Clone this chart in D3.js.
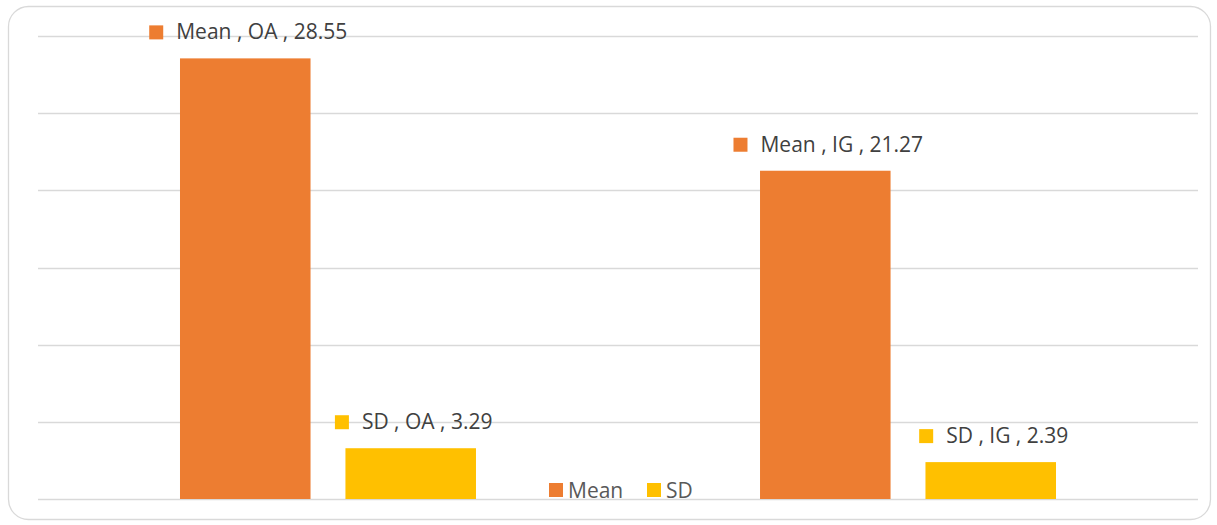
<!DOCTYPE html>
<html><head><meta charset="utf-8">
<script src="https://cdn.jsdelivr.net/npm/d3@7"></script>
<style>body{margin:0;background:#fff}svg{display:block}</style>
</head><body>
<svg id="c" width="1217" height="525"></svg>
<script>
const categories = ["OA", "IG"];
const seriesNames = ["Mean", "SD"];
const meanValues = [28.55, 21.27];
const sdValues = [3.29, 2.39];
const yTicks = [0, 5, 10, 15, 20, 25, 30];
const colors = ["#ED7D31", "#FFC000"];

const svg = d3.select("#c");
const plot = {left: 38, right: 1198, top: 36, bottom: 499};
const font = "'Open Sans', 'Noto Sans', sans-serif";

svg.append("rect").attr("x", 8.5).attr("y", 6.5).attr("width", 1202).attr("height", 513)
  .attr("rx", 20).attr("fill", "#fff").attr("stroke", "#d9d9d9").attr("stroke-width", 1.3);

const y = d3.scaleLinear().domain([0, 30]).range([plot.bottom, plot.top]);
const x0 = d3.scaleBand().domain(categories).range([plot.left, plot.right])
  .paddingInner(0.4897).paddingOuter(0.2448);
const x1 = d3.scaleBand().domain(seriesNames).range([0, x0.bandwidth()]).paddingInner(0.211);

svg.append("g").selectAll("line").data(yTicks).join("line")
  .attr("x1", plot.left).attr("x2", plot.right)
  .attr("y1", d => Math.round(y(d)) + 0.5).attr("y2", d => Math.round(y(d)) + 0.5)
  .attr("stroke", "#d9d9d9").attr("stroke-width", 1.3);

const data = [];
categories.forEach((c, i) => {
  data.push({cat: c, s: "Mean", v: meanValues[i], color: colors[0]});
  data.push({cat: c, s: "SD", v: sdValues[i], color: colors[1]});
});

svg.append("g").selectAll("rect").data(data).join("rect")
  .attr("x", d => x0(d.cat) + x1(d.s))
  .attr("width", x1.bandwidth())
  .attr("y", d => y(d.v))
  .attr("height", d => y(0) - y(d.v))
  .attr("fill", d => d.color);

// data labels
const lab = svg.append("g").selectAll("g").data(data).join("g");
lab.each(function(d) {
  const g = d3.select(this);
  const t = g.append("text").text(`${d.s} , ${d.cat} , ${d.v}`)
    .attr("font-family", font).attr("font-size", 21).attr("fill", "#404040");
  const tw = t.node().getComputedTextLength();
  const total = 14 + 13 + tw;
  const cx = x0(d.cat) + x1(d.s) + x1.bandwidth() / 2 + 3;
  const left = cx - total / 2;
  const base = y(d.v) - 19;
  g.append("rect").attr("x", left).attr("y", base - 14).attr("width", 14).attr("height", 14).attr("fill", d.color);
  t.attr("x", left + 27).attr("y", base);
});

// legend
const leg = svg.append("g");
const legItems = [{n: "Mean", x: 549}, {n: "SD", x: 647}];
seriesNames.forEach((n, i) => {
  const lx = legItems[i].x;
  leg.append("rect").attr("x", lx).attr("y", 483).attr("width", 14).attr("height", 14).attr("fill", colors[i]);
  leg.append("text").attr("x", lx + 19).attr("y", 497.5).text(n)
    .attr("font-family", font).attr("font-size", 21).attr("fill", "#595959");
});
</script>
</body></html>
